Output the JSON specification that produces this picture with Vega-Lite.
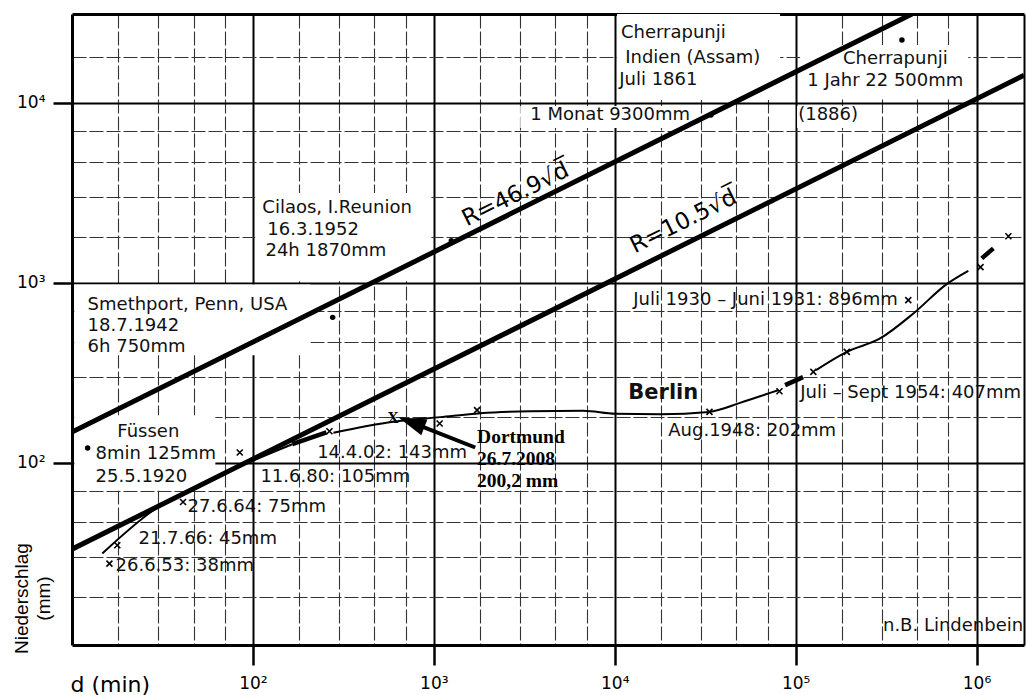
{
  "$schema": "https://vega.github.io/schema/vega-lite/v6.json",
  "width": 952,
  "height": 631,
  "autosize": "none",
  "padding": {"left": 72, "top": 14, "right": 2, "bottom": 50},
  "background": "white",
  "config": {"view": {"stroke": null}, "font": "DejaVu Sans"},
  "resolve": {"axis": {"x": "independent", "y": "independent"}},
  "datasets": {
    "boxes": [
      {"x1": 10300, "x2": 82000, "y1": 10350, "y2": 31100},
      {"x1": 3006, "x2": 29650, "y1": 7230, "y2": 9600},
      {"x1": 105900, "x2": 901000, "y1": 10760, "y2": 20940},
      {"x1": 101900, "x2": 227000, "y1": 7230, "y2": 9600},
      {"x1": 103, "x2": 970, "y1": 1020, "y2": 3150},
      {"x1": 10.3, "x2": 208, "y1": 396, "y2": 980},
      {"x1": 10.3, "x2": 62, "y1": 70.5, "y2": 184}
    ],
    "rlines": [
      {"d": 10, "R": 148.3, "k": "a"},
      {"d": 439700, "R": 31100, "k": "a"},
      {"d": 10, "R": 33.2, "k": "b"},
      {"d": 1830000, "R": 14204, "k": "b"}
    ],
    "berlin": [
      {"d": 14.7, "R": 31.4, "s": "A"},
      {"d": 27.2, "R": 53.2, "s": "A"},
      {"d": 66.1, "R": 85.4, "s": "A"},
      {"d": 165, "R": 127, "s": "A"},
      {"d": 278.6, "R": 147.2, "s": "C"},
      {"d": 597, "R": 169.5, "s": "C"},
      {"d": 1086, "R": 179.6, "s": "C"},
      {"d": 1807, "R": 188.8, "s": "C"},
      {"d": 3412, "R": 193.7, "s": "C"},
      {"d": 6699, "R": 195, "s": "C"},
      {"d": 10070, "R": 187.6, "s": "C"},
      {"d": 17820, "R": 186.6, "s": "C"},
      {"d": 33270, "R": 192, "s": "C"},
      {"d": 49320, "R": 215.4, "s": "C"},
      {"d": 72300, "R": 244.9, "s": "C"},
      {"d": 80000, "R": 253.4, "s": "C"},
      {"d": 129700, "R": 327.4, "s": "E"},
      {"d": 191800, "R": 413.7, "s": "E"},
      {"d": 293000, "R": 490.9, "s": "E"},
      {"d": 447700, "R": 676, "s": "E"},
      {"d": 684000, "R": 984, "s": "E"},
      {"d": 901000, "R": 1166, "s": "E"}
    ],
    "thick": [
      {"d": 165, "R": 127, "s": "B"},
      {"d": 255, "R": 148, "s": "B"},
      {"d": 87500, "R": 270.5, "s": "D"},
      {"d": 109900, "R": 299.4, "s": "D"},
      {"d": 1069000, "R": 1367, "s": "F"},
      {"d": 1239000, "R": 1553, "s": "F"}
    ],
    "markers": [
      {"d": 16.1, "R": 27.6},
      {"d": 17.8, "R": 34.9},
      {"d": 41.1, "R": 60.7},
      {"d": 84.6, "R": 114.2},
      {"d": 264.9, "R": 150},
      {"d": 1077, "R": 165.6},
      {"d": 1734, "R": 196.3},
      {"d": 33400, "R": 192},
      {"d": 81400, "R": 250},
      {"d": 125300, "R": 320.4},
      {"d": 191800, "R": 413.7},
      {"d": 419600, "R": 801.6},
      {"d": 1052000, "R": 1222},
      {"d": 1500000, "R": 1815}
    ],
    "dots": [
      {"d": 387000, "R": 22300},
      {"d": 34000, "R": 8550},
      {"d": 1250, "R": 1711},
      {"d": 276, "R": 643},
      {"d": 12.2, "R": 121}
    ],
    "arrow": [
      {"d": 1694, "R": 121.8},
      {"d": 842, "R": 160.7}
    ],
    "head": [
      {"d": 751, "R": 168.2}
    ],
    "dortX": [
      {"d": 595, "R": 176.5, "t": "X"}
    ],
    "labels": [
      {"x": 10820, "y": 24380, "t": "Cherrapunji"},
      {"x": 11430, "y": 17820, "t": "Indien (Assam)"},
      {"x": 10590, "y": 13360, "t": "Juli 1861"},
      {"x": 3412, "y": 8550, "t": "1 Monat 9300mm"},
      {"x": 182800, "y": 17500, "t": "Cherrapunji"},
      {"x": 115900, "y": 13280, "t": "1 Jahr 22 500mm"},
      {"x": 103300, "y": 8550, "t": "(1886)"},
      {"x": 112.8, "y": 2600, "t": "Cilaos, I.Reunion"},
      {"x": 120.2, "y": 1963, "t": "16.3.1952"},
      {"x": 117.3, "y": 1500, "t": "24h 1870mm"},
      {"x": 12.2, "y": 751, "t": "Smethport, Penn, USA"},
      {"x": 12.2, "y": 574, "t": "18.7.1942"},
      {"x": 12.2, "y": 439.5, "t": "6h 750mm"},
      {"x": 17.8, "y": 148, "t": "Füssen"},
      {"x": 13.5, "y": 112.5, "t": "8min 125mm"},
      {"x": 13.5, "y": 83.3, "t": "25.5.1920"},
      {"x": 110, "y": 83.3, "t": "11.6.80: 105mm"},
      {"x": 43.5, "y": 57.1, "t": "27.6.64: 75mm"},
      {"x": 23.3, "y": 37.9, "t": "21.7.66: 45mm"},
      {"x": 17.4, "y": 26.9, "t": "26.6.53: 38mm"},
      {"x": 226.5, "y": 113.9, "t": "14.4.02: 143mm"},
      {"x": 19770, "y": 151, "t": "Aug.1948: 202mm"},
      {"x": 106000, "y": 245.5, "t": "Juli – Sept 1954: 407mm"},
      {"x": 12650, "y": 801.6, "t": "Juli 1930 – Juni 1931: 896mm"},
      {"x": 304000, "y": 12.5, "t": "n.B. Lindenbein"}
    ],
    "rlabelA": [
      {"d": 3080, "R": 2603, "t": "R=46.9√d̅"}
    ],
    "rlabelB": [
      {"d": 27000, "R": 1725, "t": "R=10.5√d̅"}
    ],
    "dortmund": [
      {"x": 1734, "y": 139, "t": "Dortmund"},
      {"x": 1734, "y": 104.8, "t": "26.7.2008"},
      {"x": 1734, "y": 79.1, "t": "200,2 mm"}
    ],
    "berlinLabel": [
      {"x": 11890, "y": 243.6, "t": "Berlin"}
    ]
  },
  "layer": [
    {
      "data": {"name": "boxes"},
      "mark": {"type": "rect", "fill": "white", "stroke": null},
      "encoding": {
        "x": {"field": "x1", "type": "quantitative", "scale": {"type": "log", "domain": [10, 1830000], "nice": false},
          "axis": {"orient": "bottom", "values": [18, 30, 47, 70, 180, 300, 470, 700, 1800, 3000, 4700, 7000, 18000, 30000, 47000, 70000, 180000, 300000, 470000, 700000],
            "grid": true, "gridColor": "#333", "gridWidth": 1.1, "gridDash": [14, 3], "ticks": false, "labels": false, "domain": false, "title": null}},
        "x2": {"field": "x2"},
        "y": {"field": "y1", "type": "quantitative", "scale": {"type": "log", "domain": [9.75, 31100], "nice": false},
          "axis": {"orient": "left", "values": [18, 30, 47, 70, 180, 300, 470, 700, 1800, 3000, 4700, 7000, 18000],
            "grid": true, "gridColor": "#333", "gridWidth": 1.1, "gridDash": [14, 3], "ticks": false, "labels": false, "domain": false, "title": null}},
        "y2": {"field": "y2"}
      }
    },
    {
      "data": {"name": "rlines"},
      "mark": {"type": "line", "color": "black", "strokeWidth": 5, "clip": true},
      "encoding": {
        "x": {"field": "d", "type": "quantitative", "scale": {"type": "log", "domain": [10, 1830000], "nice": false},
          "axis": {"orient": "bottom", "values": [100, 1000, 10000, 100000, 1000000],
            "grid": true, "gridColor": "black", "gridWidth": 2,
            "ticks": true, "tickSize": 20, "tickWidth": 2.5, "tickColor": "black",
            "domain": true, "domainColor": "black", "domainWidth": 3,
            "labelExpr": "datum.value == 100 ? '10²' : datum.value == 1000 ? '10³' : datum.value == 10000 ? '10⁴' : datum.value == 100000 ? '10⁵' : '10⁶'",
            "labelFont": "DejaVu Sans", "labelFontSize": 17, "labelColor": "black", "labelPadding": 23, "labelBaseline": "alphabetic",
            "labelOverlap": false, "labelFlush": false, "labelBound": false,
            "title": "d (min)", "titleFont": "DejaVu Sans", "titleFontSize": 22, "titleFontWeight": "normal", "titleColor": "black",
            "titleX": -2, "titleY": 46, "titleAlign": "left", "titleBaseline": "alphabetic"}},
        "y": {"field": "R", "type": "quantitative", "scale": {"type": "log", "domain": [9.75, 31100], "nice": false},
          "axis": {"orient": "left", "values": [100, 1000, 10000],
            "grid": true, "gridColor": "black", "gridWidth": 2,
            "ticks": true, "tickSize": 19, "tickWidth": 2.5, "tickColor": "black",
            "domain": true, "domainColor": "black", "domainWidth": 3,
            "labelExpr": "datum.value == 100 ? '10²' : datum.value == 1000 ? '10³' : '10⁴'",
            "labelFont": "DejaVu Sans", "labelFontSize": 17, "labelColor": "black", "labelPadding": 8, "labelBaseline": "middle", "labelAlign": "right",
            "labelOverlap": false, "labelBound": false, "labelFlush": false,
            "title": ["Niederschlag", "(mm)"], "titleFont": "Liberation Sans", "titleFontSize": 19, "titleFontWeight": "normal", "titleColor": "black",
            "titleX": -60, "titleY": 584, "titleAngle": 270, "titleAlign": "center", "titleBaseline": "top", "titleLineHeight": 22}},
        "detail": {"field": "k"}
      }
    },
    {
      "data": {"name": "berlin"},
      "mark": {"type": "line", "color": "black", "strokeWidth": 2, "interpolate": "monotone"},
      "encoding": {
        "x": {"field": "d", "type": "quantitative", "scale": {"type": "log", "domain": [10, 1830000], "nice": false},
          "axis": {"orient": "top", "domain": true, "domainColor": "black", "domainWidth": 3, "ticks": false, "labels": false, "grid": false, "title": null}},
        "y": {"field": "R", "type": "quantitative", "scale": {"type": "log", "domain": [9.75, 31100], "nice": false},
          "axis": {"orient": "right", "domain": true, "domainColor": "black", "domainWidth": 2, "ticks": false, "labels": false, "grid": false, "title": null}},
        "detail": {"field": "s"}
      }
    },
    {
      "data": {"name": "thick"},
      "mark": {"type": "line", "color": "black", "strokeWidth": 4.5, "strokeCap": "butt"},
      "encoding": {
        "x": {"field": "d", "type": "quantitative", "scale": {"type": "log", "domain": [10, 1830000], "nice": false}, "axis": null},
        "y": {"field": "R", "type": "quantitative", "scale": {"type": "log", "domain": [9.75, 31100], "nice": false}, "axis": null},
        "detail": {"field": "s"}
      }
    },
    {
      "data": {"name": "markers"},
      "mark": {"type": "point", "shape": "M-1,-1L1,1M-1,1L1,-1", "filled": false, "stroke": "black", "strokeWidth": 1.6, "size": 36, "opacity": 1},
      "encoding": {
        "x": {"field": "d", "type": "quantitative", "scale": {"type": "log", "domain": [10, 1830000], "nice": false}, "axis": null},
        "y": {"field": "R", "type": "quantitative", "scale": {"type": "log", "domain": [9.75, 31100], "nice": false}, "axis": null}
      }
    },
    {
      "data": {"name": "dots"},
      "mark": {"type": "circle", "color": "black", "size": 30, "opacity": 1},
      "encoding": {
        "x": {"field": "d", "type": "quantitative", "scale": {"type": "log", "domain": [10, 1830000], "nice": false}, "axis": null},
        "y": {"field": "R", "type": "quantitative", "scale": {"type": "log", "domain": [9.75, 31100], "nice": false}, "axis": null}
      }
    },
    {
      "data": {"name": "arrow"},
      "mark": {"type": "line", "color": "black", "strokeWidth": 4},
      "encoding": {
        "x": {"field": "d", "type": "quantitative", "scale": {"type": "log", "domain": [10, 1830000], "nice": false}, "axis": null},
        "y": {"field": "R", "type": "quantitative", "scale": {"type": "log", "domain": [9.75, 31100], "nice": false}, "axis": null}
      }
    },
    {
      "data": {"name": "head"},
      "mark": {"type": "point", "shape": "M0,-1L-0.6,1L0.6,1Z", "filled": true, "color": "black", "size": 784, "angle": -68.5, "opacity": 1},
      "encoding": {
        "x": {"field": "d", "type": "quantitative", "scale": {"type": "log", "domain": [10, 1830000], "nice": false}, "axis": null},
        "y": {"field": "R", "type": "quantitative", "scale": {"type": "log", "domain": [9.75, 31100], "nice": false}, "axis": null}
      }
    },
    {
      "data": {"name": "dortX"},
      "mark": {"type": "text", "font": "Liberation Serif", "fontWeight": "bold", "fontSize": 16, "color": "black", "align": "center", "baseline": "middle"},
      "encoding": {
        "x": {"field": "d", "type": "quantitative", "scale": {"type": "log", "domain": [10, 1830000], "nice": false}, "axis": null},
        "y": {"field": "R", "type": "quantitative", "scale": {"type": "log", "domain": [9.75, 31100], "nice": false}, "axis": null},
        "text": {"field": "t"}
      }
    },
    {
      "data": {"name": "labels"},
      "mark": {"type": "text", "font": "DejaVu Sans", "fontSize": 18, "color": "#111", "align": "left", "baseline": "middle"},
      "encoding": {
        "x": {"field": "x", "type": "quantitative", "scale": {"type": "log", "domain": [10, 1830000], "nice": false}, "axis": null},
        "y": {"field": "y", "type": "quantitative", "scale": {"type": "log", "domain": [9.75, 31100], "nice": false}, "axis": null},
        "text": {"field": "t"}
      }
    },
    {
      "data": {"name": "rlabelA"},
      "mark": {"type": "text", "font": "DejaVu Sans", "fontSize": 23, "color": "black", "align": "center", "baseline": "alphabetic", "angle": -26.4, "dy": -8},
      "encoding": {
        "x": {"field": "d", "type": "quantitative", "scale": {"type": "log", "domain": [10, 1830000], "nice": false}, "axis": null},
        "y": {"field": "R", "type": "quantitative", "scale": {"type": "log", "domain": [9.75, 31100], "nice": false}, "axis": null},
        "text": {"field": "t"}
      }
    },
    {
      "data": {"name": "rlabelB"},
      "mark": {"type": "text", "font": "DejaVu Sans", "fontSize": 23, "color": "black", "align": "center", "baseline": "alphabetic", "angle": -26.4, "dy": -14},
      "encoding": {
        "x": {"field": "d", "type": "quantitative", "scale": {"type": "log", "domain": [10, 1830000], "nice": false}, "axis": null},
        "y": {"field": "R", "type": "quantitative", "scale": {"type": "log", "domain": [9.75, 31100], "nice": false}, "axis": null},
        "text": {"field": "t"}
      }
    },
    {
      "data": {"name": "dortmund"},
      "mark": {"type": "text", "font": "Liberation Serif", "fontWeight": "bold", "fontSize": 19.5, "color": "black", "align": "left", "baseline": "middle"},
      "encoding": {
        "x": {"field": "x", "type": "quantitative", "scale": {"type": "log", "domain": [10, 1830000], "nice": false}, "axis": null},
        "y": {"field": "y", "type": "quantitative", "scale": {"type": "log", "domain": [9.75, 31100], "nice": false}, "axis": null},
        "text": {"field": "t"}
      }
    },
    {
      "data": {"name": "berlinLabel"},
      "mark": {"type": "text", "font": "DejaVu Sans", "fontWeight": "bold", "fontSize": 21, "color": "#111", "align": "left", "baseline": "middle"},
      "encoding": {
        "x": {"field": "x", "type": "quantitative", "scale": {"type": "log", "domain": [10, 1830000], "nice": false}, "axis": null},
        "y": {"field": "y", "type": "quantitative", "scale": {"type": "log", "domain": [9.75, 31100], "nice": false}, "axis": null},
        "text": {"field": "t"}
      }
    }
  ]
}
